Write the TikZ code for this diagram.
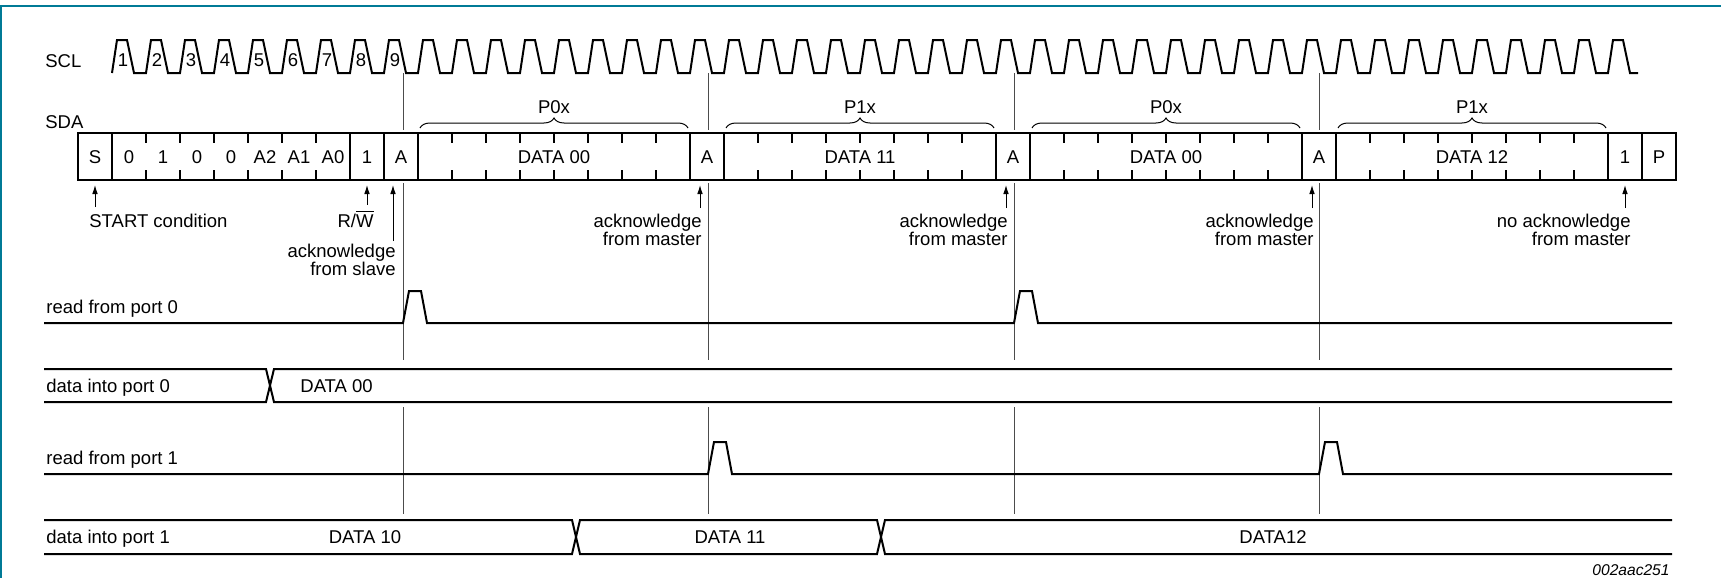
\documentclass[tikz,border=0pt]{standalone}
\usepackage{fontspec}
\setmainfont{Liberation Sans}
\usetikzlibrary{arrows.meta,decorations.pathreplacing}
\definecolor{frameteal}{RGB}{0,122,150}

\begin{document}
\begin{tikzpicture}[x=0.5pt,y=-0.5pt,
        font=\fontsize{9.25}{9}\selectfont,
        sig/.style={line width=1pt,line join=miter},
        marker/.style={line width=0.5pt,black!70},
        lbl/.style={inner sep=0pt},
        ptr/.style={line width=0.5pt,-{Latex[length=4.5pt,width=2.8pt]}},
        brc/.style={line width=0.5pt,decorate,decoration={brace,amplitude=5pt}}]
        \useasboundingbox (0,0) rectangle (1721,578);
        \draw[frameteal,line width=0.6pt] (1721,6) -- (1,6) -- (1,578);

        \node[lbl,anchor=base west] (scl) at (45,68) {SCL};
        \draw[sig] (112,73) \foreach \i in {1,...,44} { -- ++(5,-33) -- ++(10,0) -- ++(7,33) -- ++(12,0) }
            -- ++(5,-33) -- ++(10,0) -- ++(7,33) -- ++(8,0);
        \foreach \i in {1,...,9}
            \node[lbl,anchor=base] (clk\i) at ({89+34*\i},67) {\i};

        \node[lbl,anchor=base west] (sda) at (45,128) {SDA};
        \draw[sig] (78,133) rectangle (1676,180);
        \foreach \k in {1,...,46} {
            \draw[sig] ({78+34*\k},133) -- ++(0,10);
            \draw[sig] ({78+34*\k},180) -- ++(0,-10);
        }
        \foreach \k in {1,8,9,10,18,19,27,28,36,37,45,46}
            \draw[sig] ({78+34*\k},133) -- ++(0,47);
        \foreach \k/\t in {0/S,1/0,2/1,3/0,4/0,5/A2,6/A1,7/A0,8/1,9/A,18/A,27/A,36/A,45/1,46/P}
            \node[lbl,anchor=base] (bit\k) at ({95+34*\k},163) {\t};
        \foreach \k/\t/\p in {10/DATA 00/P0x,19/DATA 11/P1x,28/DATA 00/P0x,37/DATA 12/P1x} {
            \node[lbl,anchor=base] (byte\k) at ({214+34*\k},163) {\t};
            \draw[brc] ({80+34*\k},128) -- ({348+34*\k},128);
            \node[lbl,anchor=base] (port\k) at ({214+34*\k},113) {\p};
        }

        \foreach \x in {403,708,1014,1319} {
            \draw[marker] (\x,73) -- (\x,130);
            \draw[marker] (\x,183) -- (\x,360);
            \draw[marker] (\x,407) -- (\x,514);
        }

        \coordinate (sdabot) at (0,185);
        \node[lbl,anchor=base west] (startlbl) at (89,227) {START condition};
        \draw[ptr,shorten <=3pt] (startlbl.north -| bit0) -- (bit0 |- sdabot);
        \node[lbl,anchor=base east] (rw) at (374,227) {R/$\overline{\mbox{W}}$};
        \draw[ptr,shorten <=2.5pt] (rw.north -| bit8) -- (bit8 |- sdabot);
        \node[lbl,align=right,anchor=north east] (ackslave) at (396,244) {acknowledge\\from slave};
        \draw[ptr] ([xshift=-1.5pt,yshift=1.5pt]ackslave.north east) -- ++(0,-56);
        \foreach \k in {18,27,36} {
            \node[lbl,align=right,anchor=north east] (ack\k) at ({90+34*\k},214) {acknowledge\\from master};
            \draw[ptr] ([xshift=-1pt,yshift=3pt]ack\k.north east) -- ++(0,-23);
        }
        \node[lbl,align=right,anchor=north east] (noack) at (1631,214) {no acknowledge\\from master};
        \draw[ptr,shorten <=3pt] (noack.north -| bit45) -- (bit45 |- sdabot);

        \node[lbl,anchor=base west] (rd0) at (46,313) {read from port 0};
        \draw[sig] (44,323) -- (403,323) -- ++(6,-32) -- ++(12,0) -- ++(6,32)
            -- (1014,323) -- ++(6,-32) -- ++(12,0) -- ++(6,32) -- (1672,323);

        \node[lbl,anchor=base west] (dp0) at (46,392) {data into port 0};
        \draw[sig] (44,369) -- (266,369) -- (274,402) -- (1672,402);
        \draw[sig] (44,402) -- (266,402) -- (274,369) -- (1672,369);
        \node[lbl,anchor=base west] (dp0val) at (300,392) {DATA 00};

        \node[lbl,anchor=base west] (rd1) at (46,464) {read from port 1};
        \draw[sig] (44,474) -- (708,474) -- ++(6,-32) -- ++(12,0) -- ++(6,32)
            -- (1319,474) -- ++(6,-32) -- ++(12,0) -- ++(6,32) -- (1672,474);

        \node[lbl,anchor=base west] (dp1) at (46,543) {data into port 1};
        \draw[sig] (44,520) -- (572,520) -- (580,554) -- (877,554) -- (885,520) -- (1672,520);
        \draw[sig] (44,554) -- (572,554) -- (580,520) -- (877,520) -- (885,554) -- (1672,554);
        \node[lbl,anchor=base] (dp1a) at (365,543) {DATA 10};
        \node[lbl,anchor=base] (dp1b) at (730,543) {DATA 11};
        \node[lbl,anchor=base] (dp1c) at (1273,543) {DATA12};

        \node[lbl,anchor=base east,font=\fontsize{7.8}{9}\selectfont\itshape] (docid) at (1670,575) {002aac251};
    \end{tikzpicture}
\end{document}
